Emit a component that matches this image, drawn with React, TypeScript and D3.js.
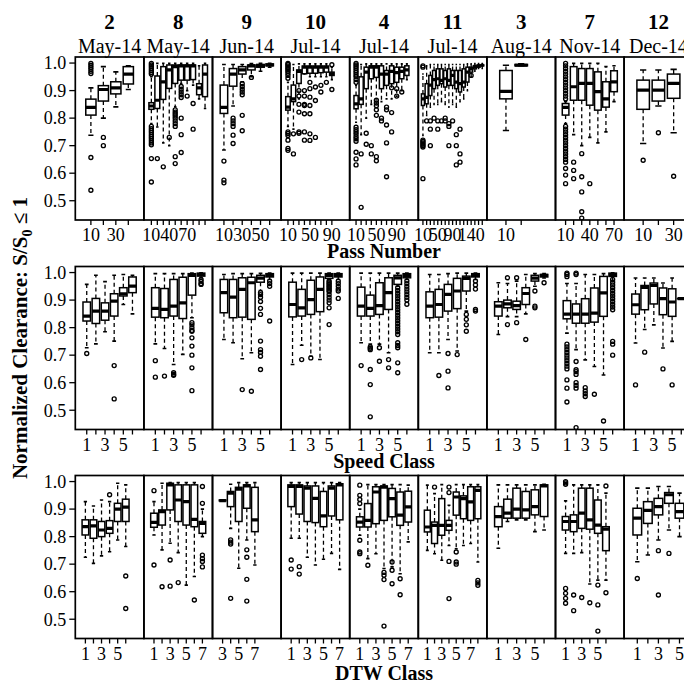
import React from "react";
import * as d3 from "d3";

type Box = [number, number, number, number, number, number[]] | null;

const panelIds = ["2", "8", "9", "10", "4", "11", "3", "7", "12"];
const panelMonths = ["May-14", "May-14", "Jun-14", "Jul-14", "Jul-14", "Jul-14", "Aug-14", "Nov-14", "Dec-14"];
const yTicks = [0.5, 0.6, 0.7, 0.8, 0.9, 1.0];
const rowTitles = ["Pass Number", "Speed Class", "DTW Class"];
const yLabel = "Normalized Clearance: S/S";

// ---------- Pass Number row: [lower whisker, q1, median, q3, upper whisker, outliers] ----------
const pass1: Box[] = [
  [0.738, 0.811, 0.839, 0.869, 0.91, [0.999, 0.992, 0.985, 0.978, 0.97, 0.962, 0.657, 0.538]],
  [0.8, 0.862, 0.904, 0.918, 0.987, [0.73, 0.7]],
  [0.841, 0.888, 0.91, 0.932, 0.968, []],
  [0.904, 0.924, 0.96, 0.987, 0.99, []],
];
const pass2: Box[] = [
  [0.78, 0.832, 0.844, 0.856, 0.95, [0.999, 0.993, 0.987, 0.98, 0.973, 0.966, 0.96, 0.77, 0.762, 0.755, 0.748, 0.74, 0.733, 0.726, 0.718, 0.71, 0.703, 0.653, 0.568]],
  [0.768, 0.835, 0.865, 0.953, 0.999, [0.653]],
  [0.71, 0.868, 0.932, 0.987, 0.999, [0.623]],
  [0.7, 0.908, 0.975, 0.993, 0.999, [0.73]],
  [0.841, 0.926, 0.987, 0.993, 0.999, [0.83, 0.822, 0.815, 0.808, 0.8, 0.79, 0.78, 0.77, 0.66, 0.635]],
  [0.926, 0.938, 0.99, 0.993, 0.999, [0.915, 0.905, 0.895, 0.885, 0.875, 0.8, 0.74, 0.675]],
  [0.9, 0.938, 0.99, 0.993, 0.999, [0.88]],
  [0.92, 0.94, 0.99, 0.993, 0.999, [0.853, 0.76]],
  [0.87, 0.885, 0.91, 0.925, 0.99, []],
  [0.835, 0.878, 0.96, 0.993, 0.999, []],
];
const pass3: Box[] = [
  [0.684, 0.817, 0.839, 0.92, 0.995, [0.644, 0.575, 0.565]],
  [0.844, 0.916, 0.96, 0.98, 0.995, [0.8, 0.79, 0.78, 0.77, 0.738, 0.708]],
  [0.932, 0.96, 0.975, 0.987, 0.995, [0.925, 0.915, 0.905, 0.895, 0.885, 0.81, 0.754]],
  [0.95, 0.975, 0.99, 0.993, 0.998, [0.948]],
  [0.97, 0.985, 0.99, 0.995, 0.999, []],
  [0.985, 0.99, 0.993, 0.997, 0.999, []],
];
const pass4: Box[] = [
  [0.77, 0.829, 0.84, 0.878, 0.93, [0.999, 0.995, 0.99, 0.985, 0.98, 0.975, 0.97, 0.963, 0.955, 0.945, 0.75, 0.744, 0.737, 0.72, 0.69, 0.683]],
  [0.76, 0.86, 0.87, 0.92, 0.995, [0.743, 0.67]],
  [0.87, 0.926, 0.97, 0.975, 0.997, [0.9, 0.88, 0.85, 0.822, 0.75, 0.745]],
  [0.96, 0.961, 0.985, 0.989, 0.997, [0.9, 0.88, 0.85, 0.846, 0.816, 0.75, 0.72]],
  [0.95, 0.963, 0.985, 0.989, 0.997, [0.93, 0.907, 0.876, 0.846, 0.816, 0.743, 0.719]],
  [0.95, 0.963, 0.985, 0.989, 0.997, [0.913, 0.864, 0.73]],
  [0.95, 0.965, 0.985, 0.989, 0.997, [0.919, 0.895]],
  [0.95, 0.967, 0.985, 0.989, 0.997, [0.93]],
  [0.94, 0.955, 0.961, 0.967, 0.985, [0.994, 0.904]],
  null,
  null,
];
const pass5: Box[] = [
  [0.785, 0.834, 0.852, 0.882, 0.92, [0.999, 0.993, 0.987, 0.98, 0.972, 0.965, 0.957, 0.95, 0.94, 0.93, 0.767, 0.758, 0.75, 0.742, 0.733, 0.725, 0.716, 0.676, 0.652, 0.63]],
  [0.74, 0.85, 0.87, 0.95, 0.995, [0.67, 0.476]],
  [0.8, 0.907, 0.967, 0.985, 0.997, [0.745, 0.705]],
  [0.85, 0.943, 0.985, 0.99, 0.997, [0.7, 0.67]],
  [0.87, 0.948, 0.985, 0.99, 0.997, [0.865, 0.855, 0.845, 0.83, 0.81, 0.66, 0.645]],
  [0.86, 0.907, 0.96, 0.99, 0.997, [0.8, 0.79]],
  [0.87, 0.919, 0.96, 0.973, 0.997, [0.84, 0.83, 0.775, 0.71, 0.587]],
  [0.87, 0.925, 0.97, 0.99, 0.997, [0.91, 0.82, 0.75]],
  [0.88, 0.93, 0.965, 0.985, 0.997, [0.907, 0.88]],
  [0.9, 0.943, 0.97, 0.985, 0.997, [0.895]],
  [0.94, 0.955, 0.975, 0.99, 0.997, []],
  null,
];
const pass6: Box[] = [
  [0.737, 0.846, 0.87, 0.888, 0.96, [0.99, 0.985, 0.72, 0.715, 0.71, 0.705, 0.7, 0.695, 0.58]],
  [0.81, 0.852, 0.875, 0.925, 0.99, [0.79]],
  [0.84, 0.882, 0.92, 0.955, 0.995, [0.79, 0.76, 0.7]],
  [0.85, 0.907, 0.94, 0.973, 0.995, [0.8]],
  [0.85, 0.919, 0.943, 0.979, 0.995, [0.79, 0.76]],
  [0.86, 0.925, 0.937, 0.979, 0.995, [0.79]],
  [0.85, 0.913, 0.943, 0.973, 0.995, [0.8, 0.79]],
  [0.84, 0.919, 0.937, 0.979, 0.995, [0.78, 0.77, 0.7]],
  [0.85, 0.919, 0.955, 0.973, 0.995, [0.79]],
  [0.84, 0.907, 0.931, 0.973, 0.995, [0.74, 0.7, 0.63]],
  [0.86, 0.895, 0.925, 0.973, 0.995, [0.76, 0.67, 0.64]],
  [0.87, 0.913, 0.931, 0.979, 0.995, []],
  [0.9, 0.931, 0.967, 0.985, 0.997, []],
  [0.95, 0.967, 0.979, 0.985, 0.997, [0.955]],
  [0.97, 0.979, 0.988, 0.99, 0.998, []],
  [0.98, 0.985, 0.99, 0.993, 0.998, []],
  [0.98, 0.99, 0.992, 0.993, 0.998, []],
];
const pass7: Box[] = [
  [0.755, 0.87, 0.897, 0.973, 0.992, []],
  [0.99, 0.99, 0.992, 0.995, 0.997, []],
  null,
];
const pass8: Box[] = [
  [0.78, 0.811, 0.839, 0.853, 0.86, [0.999, 0.99, 0.98, 0.97, 0.96, 0.95, 0.94, 0.93, 0.92, 0.91, 0.9, 0.89, 0.88, 0.87, 0.77, 0.76, 0.75, 0.74, 0.73, 0.72, 0.71, 0.7, 0.69, 0.68, 0.67, 0.66, 0.65, 0.64, 0.617, 0.593, 0.562]],
  [0.74, 0.865, 0.914, 0.987, 0.999, [0.64, 0.61, 0.58]],
  [0.7, 0.865, 0.926, 0.98, 0.999, [0.671, 0.587, 0.532, 0.46, 0.437]],
  [0.73, 0.847, 0.926, 0.98, 0.999, [0.562]],
  [0.71, 0.829, 0.896, 0.968, 0.999, []],
  [0.75, 0.84, 0.87, 0.932, 0.987, []],
  [0.86, 0.896, 0.932, 0.972, 0.99, []],
];
const pass9: Box[] = [
  [0.708, 0.832, 0.902, 0.938, 0.975, [0.647]],
  [0.844, 0.862, 0.902, 0.938, 0.975, [0.747]],
  [0.747, 0.872, 0.926, 0.96, 0.977, [0.589]],
];

// ---------- Speed Class row ----------
const speed1: Box[] = [
  [0.727, 0.824, 0.842, 0.893, 0.957, [0.706]],
  [0.741, 0.815, 0.86, 0.906, 0.99, []],
  [0.785, 0.827, 0.86, 0.89, 0.967, []],
  [0.751, 0.842, 0.896, 0.923, 0.99, [0.662, 0.541]],
  [0.884, 0.915, 0.923, 0.945, 0.993, []],
  [0.85, 0.927, 0.951, 0.984, 0.99, []],
];
const speed2: Box[] = [
  [0.741, 0.838, 0.87, 0.945, 0.996, [0.68, 0.62]],
  [0.724, 0.836, 0.866, 0.942, 0.996, [0.624]],
  [0.666, 0.842, 0.878, 0.975, 0.996, [0.636, 0.63, 0.627]],
  [0.703, 0.833, 0.89, 0.983, 0.996, []],
  [0.836, 0.918, 0.99, 0.996, 0.998, [0.818, 0.81, 0.8, 0.79, 0.787, 0.763, 0.733, 0.7, 0.654, 0.571]],
  [0.98, 0.987, 0.993, 0.998, 0.999, [0.975, 0.968, 0.96, 0.957]],
];
const speed3: Box[] = [
  [0.757, 0.854, 0.927, 0.975, 0.993, []],
  [0.745, 0.836, 0.911, 0.975, 0.996, []],
  [0.687, 0.838, 0.939, 0.981, 0.996, [0.575]],
  [0.709, 0.83, 0.963, 0.983, 0.996, [0.569]],
  [0.935, 0.965, 0.98, 0.99, 0.997, [0.927, 0.92, 0.91, 0.895, 0.87, 0.848, 0.751, 0.72, 0.71, 0.696, 0.648]],
  [0.975, 0.984, 0.99, 0.996, 0.998, [0.969, 0.96, 0.95, 0.824]],
];
const speed4: Box[] = [
  [0.666, 0.839, 0.884, 0.965, 0.998, []],
  [0.736, 0.842, 0.872, 0.939, 0.998, [0.684]],
  [0.696, 0.848, 0.902, 0.972, 0.998, [0.69]],
  [0.684, 0.858, 0.939, 0.984, 0.998, []],
  [0.975, 0.979, 0.99, 0.996, 0.998, [0.97, 0.965, 0.96, 0.955, 0.95, 0.945, 0.94, 0.935, 0.93, 0.92, 0.91, 0.9, 0.89, 0.872, 0.811]],
  [0.975, 0.984, 0.99, 0.996, 0.998, [0.969, 0.96, 0.95, 0.94, 0.933, 0.906]],
];
const speed5: Box[] = [
  [0.745, 0.842, 0.878, 0.947, 0.998, [0.662]],
  [0.74, 0.842, 0.87, 0.918, 0.998, [0.73, 0.725, 0.72, 0.648, 0.593, 0.476]],
  [0.74, 0.848, 0.88, 0.963, 0.998, [0.727, 0.678]],
  [0.709, 0.866, 0.927, 0.981, 0.998, [0.684, 0.654]],
  [0.95, 0.957, 0.981, 0.99, 0.998, [0.945, 0.935, 0.925, 0.915, 0.905, 0.895, 0.885, 0.875, 0.865, 0.855, 0.845, 0.835, 0.825, 0.815, 0.805, 0.795, 0.785, 0.775, 0.745, 0.735, 0.727, 0.672, 0.636]],
  [0.975, 0.981, 0.99, 0.996, 0.998, [0.97, 0.96, 0.95, 0.94, 0.93, 0.92, 0.91, 0.9, 0.885]],
];
const speed6: Box[] = [
  [0.709, 0.836, 0.878, 0.93, 0.993, []],
  [0.709, 0.838, 0.884, 0.939, 0.993, [0.626]],
  [0.757, 0.86, 0.921, 0.957, 0.996, [0.706, 0.642, 0.581]],
  [0.715, 0.869, 0.933, 0.979, 0.998, [0.702]],
  [0.86, 0.933, 0.979, 0.987, 0.998, [0.848, 0.83, 0.81, 0.787]],
  [0.975, 0.984, 0.99, 0.996, 0.998, [0.969, 0.955, 0.94, 0.866, 0.86]],
];
const speed7: Box[] = [
  [0.775, 0.842, 0.878, 0.894, 0.963, []],
  [0.84, 0.872, 0.886, 0.9, 0.96, [0.981, 0.811]],
  [0.84, 0.866, 0.88, 0.896, 0.969, [0.981, 0.818]],
  [0.85, 0.884, 0.924, 0.945, 0.993, [0.757]],
  [0.95, 0.969, 0.98, 0.99, 0.996, [0.933, 0.878, 0.872]],
  [0.98, 0.984, 0.99, 0.993, 0.996, [0.963]],
];
const speed8: Box[] = [
  [0.78, 0.832, 0.849, 0.898, 0.96, [0.998, 0.993, 0.985, 0.74, 0.73, 0.72, 0.71, 0.7, 0.69, 0.68, 0.67, 0.66, 0.65, 0.61, 0.58, 0.53]],
  [0.72, 0.816, 0.849, 0.886, 0.96, [0.998, 0.993, 0.677, 0.647, 0.64, 0.63, 0.6, 0.59, 0.58, 0.437]],
  [0.683, 0.816, 0.849, 0.905, 0.993, [0.582, 0.57, 0.56, 0.55]],
  [0.659, 0.82, 0.853, 0.944, 0.993, [0.558]],
  [0.628, 0.841, 0.926, 0.986, 0.996, [0.461]],
  [0.97, 0.986, 0.993, 0.998, 0.999, [0.975, 0.965, 0.955, 0.945, 0.935, 0.925, 0.915, 0.905, 0.895, 0.885, 0.875, 0.865, 0.75, 0.74, 0.7]],
];
const speed9: Box[] = [
  [0.744, 0.849, 0.883, 0.922, 0.98, [0.592]],
  [0.793, 0.865, 0.946, 0.953, 0.98, [0.711]],
  [0.81, 0.886, 0.953, 0.962, 0.98, []],
  [0.726, 0.847, 0.905, 0.944, 0.962, [0.65]],
  [0.75, 0.841, 0.893, 0.941, 0.98, [0.592]],
  [0.905, 0.905, 0.905, 0.905, 0.905, []],
];

// ---------- DTW Class row ----------
const dtw1: Box[] = [
  [0.725, 0.806, 0.836, 0.861, 0.927, []],
  [0.703, 0.794, 0.839, 0.861, 0.911, []],
  [0.73, 0.8, 0.824, 0.855, 0.933, []],
  [0.745, 0.812, 0.83, 0.858, 0.927, [0.952]],
  [0.788, 0.855, 0.9, 0.921, 0.994, []],
  [0.764, 0.855, 0.907, 0.936, 0.988, [0.657, 0.539]],
  null,
];
const dtw2: Box[] = [
  [0.806, 0.834, 0.852, 0.885, 0.927, [0.967, 0.697]],
  [0.752, 0.842, 0.891, 0.897, 0.994, [0.618]],
  [0.776, 0.897, 0.988, 0.994, 0.996, [0.715, 0.62]],
  [0.742, 0.855, 0.933, 0.988, 0.996, [0.633]],
  [0.624, 0.842, 0.927, 0.988, 0.996, []],
  [0.655, 0.836, 0.863, 0.988, 0.996, [0.57]],
  [0.8, 0.812, 0.848, 0.855, 0.9, [0.982, 0.921, 0.733, 0.72, 0.71, 0.69]],
];
const dtw3: Box[] = [
  [0.93, 0.93, 0.931, 0.933, 0.933, []],
  [0.83, 0.909, 0.958, 0.964, 0.99, [0.788, 0.78, 0.773, 0.576]],
  [0.685, 0.855, 0.972, 0.979, 0.996, []],
  [0.788, 0.903, 0.984, 0.988, 0.996, [0.752, 0.725, 0.645, 0.566]],
  [0.697, 0.818, 0.861, 0.979, 0.996, []],
  null,
  null,
];
const dtw4: Box[] = [
  [0.794, 0.909, 0.982, 0.988, 0.996, [0.715, 0.682]],
  [0.794, 0.882, 0.982, 0.988, 0.996, [0.691, 0.664]],
  [0.725, 0.855, 0.976, 0.984, 0.996, []],
  [0.697, 0.851, 0.939, 0.984, 0.996, []],
  [0.718, 0.836, 0.875, 0.964, 0.996, []],
  [0.739, 0.875, 0.976, 0.984, 0.996, []],
  [0.681, 0.861, 0.988, 0.992, 0.996, []],
];
const dtw5: Box[] = [
  [0.805, 0.835, 0.853, 0.872, 0.9, [0.987, 0.95, 0.935, 0.92, 0.787, 0.744, 0.738]],
  [0.72, 0.835, 0.859, 0.92, 0.989, [0.696]],
  [0.738, 0.847, 0.962, 0.981, 0.989, []],
  [0.684, 0.859, 0.98, 0.984, 0.989, [0.67, 0.66, 0.644, 0.475]],
  [0.69, 0.872, 0.938, 0.975, 0.989, [0.708, 0.678, 0.629]],
  [0.665, 0.841, 0.878, 0.962, 0.989, [0.647, 0.589]],
  [0.781, 0.853, 0.908, 0.965, 0.987, []],
];
const dtw6: Box[] = [
  [0.75, 0.817, 0.835, 0.896, 0.987, []],
  [0.738, 0.775, 0.841, 0.853, 0.956, [0.98]],
  [0.714, 0.805, 0.841, 0.938, 0.989, []],
  [0.768, 0.823, 0.841, 0.859, 0.914, [0.98, 0.96, 0.71, 0.575]],
  [0.756, 0.878, 0.944, 0.962, 0.989, [0.744, 0.708, 0.7]],
  [0.768, 0.865, 0.938, 0.948, 0.989, []],
  [0.775, 0.859, 0.926, 0.981, 0.989, []],
  [0.708, 0.865, 0.968, 0.981, 0.989, [0.641, 0.632, 0.623]],
];
const dtw7: Box[] = [
  [0.758, 0.836, 0.873, 0.909, 0.988, []],
  [0.855, 0.867, 0.885, 0.936, 0.988, []],
  [0.861, 0.867, 0.9, 0.976, 0.988, []],
  [0.861, 0.867, 0.897, 0.964, 0.988, []],
  [0.818, 0.879, 0.909, 0.97, 0.988, []],
  [0.824, 0.873, 0.984, 0.988, 0.99, []],
];
const dtw8: Box[] = [
  [0.739, 0.824, 0.855, 0.873, 0.93, [1.0, 0.995, 0.99, 0.612, 0.594, 0.576, 0.558]],
  [0.739, 0.818, 0.855, 0.879, 0.988, [0.588, 0.531]],
  [0.742, 0.83, 0.885, 0.976, 0.988, [0.579]],
  [0.628, 0.827, 0.861, 0.976, 0.988, [0.56]],
  [0.642, 0.812, 0.842, 0.933, 0.988, [0.624, 0.552, 0.457]],
  [0.642, 0.749, 0.827, 0.836, 0.958, [0.984, 0.596]],
  null,
];
const dtw9: Box[] = [
  [0.709, 0.806, 0.867, 0.903, 0.976, [0.648]],
  [0.733, 0.848, 0.895, 0.927, 0.976, []],
  [0.788, 0.879, 0.909, 0.939, 0.982, [0.749, 0.588]],
  [0.824, 0.921, 0.952, 0.96, 0.982, [0.739]],
  [0.8, 0.867, 0.891, 0.921, 0.958, []],
];

// ---------- tick labels per panel ----------
const passLabels = [
  ["10", "", "30", ""],
  ["10", "", "", "40", "", "", "70", "", "", ""],
  ["10", "", "30", "", "50", ""],
  ["10", "", "", "", "50", "", "", "", "90", "", ""],
  ["10", "", "", "", "50", "", "", "", "90", "", "", ""],
  ["10", "", "", "", "50", "", "", "", "90", "", "", "", "", "140", "", "", ""],
  ["10", "", ""],
  ["10", "", "", "40", "", "", "70"],
  ["10", "", "30"],
];
const speedLabels = Array.from({ length: 9 }, () => ["1", "", "3", "", "5", ""]);
const dtwLabels = [
  ["1", "", "3", "", "5", "", ""],
  ["1", "", "3", "", "5", "", "7"],
  ["3", "", "5", "", "7", "", ""],
  ["1", "", "3", "", "5", "", "7"],
  ["1", "", "3", "", "5", "", "7"],
  ["1", "", "3", "", "5", "", "7", ""],
  ["1", "", "3", "", "5", ""],
  ["1", "", "3", "", "5", "", ""],
  ["1", "", "3", "", "5"],
];

const passStats = [pass1, pass2, pass3, pass4, pass5, pass6, pass7, pass8, pass9];
const speedStats = [speed1, speed2, speed3, speed4, speed5, speed6, speed7, speed8, speed9];
const dtwStats = [dtw1, dtw2, dtw3, dtw4, dtw5, dtw6, dtw7, dtw8, dtw9];

const rowStats = [passStats, speedStats, dtwStats];
const rowLabels = [passLabels, speedLabels, dtwLabels];

// ---------- layout ----------
const W = 684;
const H = 683;
const plotLeft = 75.3;
const panelW = 68.6;
const rowTops = [57, 266.5, 475.5];
const rowH = 163;
const titleOffsets = [38, 38, 41];
const FONT = "'Liberation Serif', 'Times New Roman', Times, serif";
const yDomain = [0.43, 1.022];

function Panel({ stats, labels, row, col }: { stats: Box[]; labels: string[]; row: number; col: number }) {
  const x0 = plotLeft + col * panelW;
  const top = rowTops[row];
  const y = d3.scaleLinear().domain(yDomain).range([top + rowH, top]);
  const xs = d3
    .scalePoint<number>()
    .domain(d3.range(labels.length))
    .range([x0, x0 + panelW])
    .padding(1.25);
  const step = xs.step();
  const bw = Math.min(step * 0.82, 13);
  const cap = bw * 0.5;
  const clipId = `clip-${row}-${col}`;
  return (
    <g>
      <defs>
        <clipPath id={clipId}>
          <rect x={x0} y={top} width={panelW} height={rowH} />
        </clipPath>
      </defs>
      <g clipPath={`url(#${clipId})`}>
        {stats.map((b, i) => {
          if (!b) return null;
          const cx = xs(i) as number;
          const [lo, q1, med, q3, hi, outs] = b;
          return (
            <g key={i}>
              <line x1={cx} x2={cx} y1={y(q3)} y2={y(hi)} stroke="#000" strokeWidth={1.3} strokeDasharray="4,3" />
              <line x1={cx} x2={cx} y1={y(q1)} y2={y(lo)} stroke="#000" strokeWidth={1.3} strokeDasharray="4,3" />
              <line x1={cx - cap / 2} x2={cx + cap / 2} y1={y(hi)} y2={y(hi)} stroke="#000" strokeWidth={1.6} />
              <line x1={cx - cap / 2} x2={cx + cap / 2} y1={y(lo)} y2={y(lo)} stroke="#000" strokeWidth={1.6} />
              <rect
                x={cx - bw / 2}
                y={y(q3)}
                width={bw}
                height={Math.max(0.01, y(q1) - y(q3))}
                fill="#fff"
                stroke="#000"
                strokeWidth={1.5}
              />
              <line x1={cx - bw / 2} x2={cx + bw / 2} y1={y(med)} y2={y(med)} stroke="#000" strokeWidth={3.2} />
              {outs.map((o, k) => (
                <circle key={k} cx={cx} cy={y(o)} r={2} fill="none" stroke="#000" strokeWidth={1.35} />
              ))}
            </g>
          );
        })}
      </g>
      <rect x={x0} y={top} width={panelW} height={rowH} fill="none" stroke="#000" strokeWidth={1.7} />
      {stats.map((b, i) =>
        b ? (
          <line
            key={"t" + i}
            x1={xs(i) as number}
            x2={xs(i) as number}
            y1={top + rowH}
            y2={top + rowH + 5}
            stroke="#000"
            strokeWidth={1.3}
          />
        ) : null
      )}
      {labels.map((l, i) =>
        l ? (
          <text key={"l" + i} x={xs(i) as number} y={top + rowH + 21} textAnchor="middle" fontSize={18} fontFamily={FONT}>
            {l}
          </text>
        ) : null
      )}
      {row === 0 && (
        <g>
          <text x={x0 + panelW / 2} y={29} textAnchor="middle" fontSize={21} fontWeight="bold" fontFamily={FONT}>
            {panelIds[col]}
          </text>
          <text x={x0 + panelW / 2} y={53} textAnchor="middle" fontSize={20} fontFamily={FONT}>
            {panelMonths[col]}
          </text>
        </g>
      )}
      {col === 0 &&
        yTicks.map((t) => (
          <g key={t}>
            <line x1={plotLeft - 6} x2={plotLeft} y1={y(t)} y2={y(t)} stroke="#000" strokeWidth={1.3} />
            <text x={plotLeft - 9} y={y(t)} dy="0.35em" textAnchor="end" fontSize={18} fontFamily={FONT}>
              {t.toFixed(1)}
            </text>
          </g>
        ))}
    </g>
  );
}

export default function App() {
  const plotCenter = plotLeft + (panelW * 9) / 2;
  return (
    <svg width={W} height={H} style={{ position: "absolute", left: 0, top: 0, background: "#fff" }}>
      <rect width={W} height={H} fill="#fff" />
      {rowStats.map((rs, r) =>
        rs.map((stats, c) => <Panel key={`${r}-${c}`} stats={stats} labels={rowLabels[r][c]} row={r} col={c} />)
      )}
      {rowTitles.map((t, r) => (
        <text
          key={t}
          x={plotCenter}
          y={rowTops[r] + rowH + titleOffsets[r]}
          textAnchor="middle"
          fontSize={20}
          fontWeight="bold"
          fontFamily={FONT}
        >
          {t}
        </text>
      ))}
      <text
        transform={`translate(27, 338) rotate(-90)`}
        textAnchor="middle"
        fontSize={21}
        fontWeight="bold"
        fontFamily={FONT}
      >
        {yLabel}
        <tspan fontSize={14} dy={5}>0</tspan>
        <tspan dy={-5}>{" \u2264 1"}</tspan>
      </text>
    </svg>
  );
}
